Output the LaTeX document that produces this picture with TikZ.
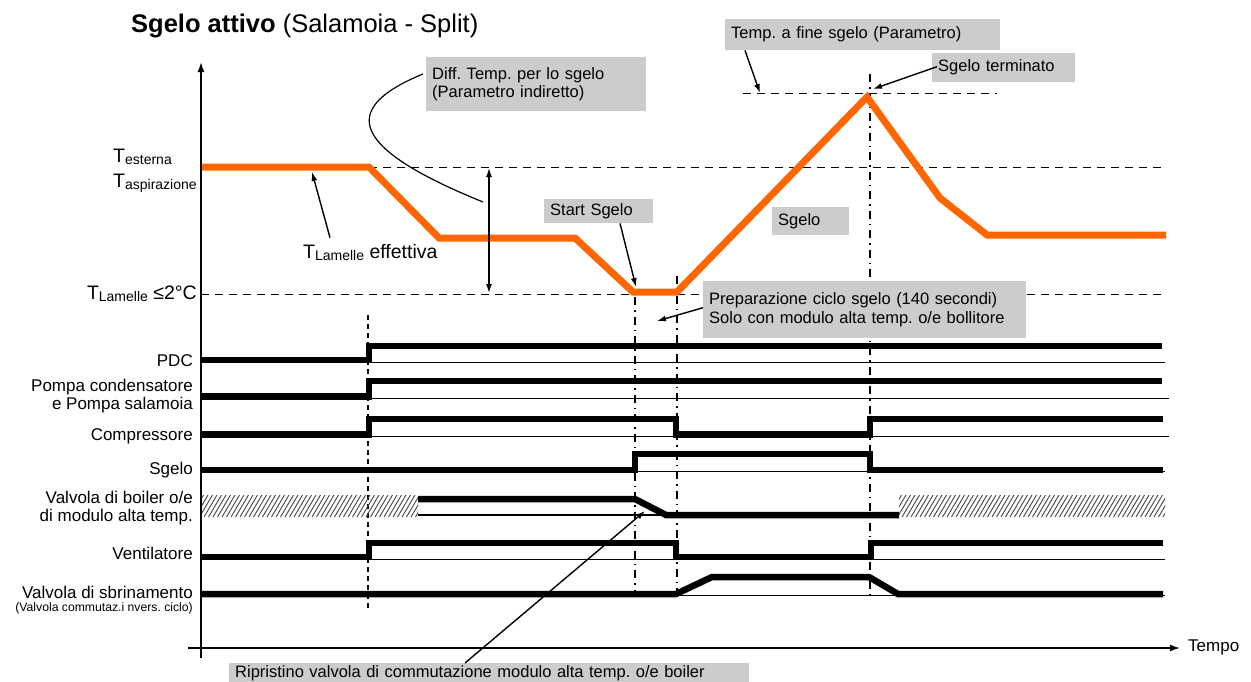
\documentclass[tikz,border=0pt]{standalone}
\usepackage{fontspec}
\setmainfont{Liberation Sans}
\usetikzlibrary{arrows.meta,calc}
\definecolor{boxgray}{RGB}{204,204,204}
\definecolor{frost}{RGB}{255,102,0}
\definecolor{hatchgray}{RGB}{70,70,70}
\newcommand{\lowsub}[1]{\raisebox{-2pt}{\fontsize{14}{15}\selectfont #1}}
\frenchspacing

\begin{document}
\begin{tikzpicture}[x=1pt,y=-1pt,
  lbl/.style={font=\fontsize{17}{18}\selectfont, inner sep=0pt},
  smalllbl/.style={font=\fontsize{12.2}{13}\selectfont, inner sep=0pt},
  tlbl/.style={font=\fontsize{19.5}{21}\selectfont, inner sep=0pt},
  note/.style={fill=boxgray, font=\fontsize{16.5}{18.5}\selectfont, align=left,
               inner xsep=6pt, inner ysep=0pt, anchor=north west},
  tempcurve/.style={draw=frost, line width=7pt, line join=miter},
  sig/.style={line width=6.5pt, line join=miter},
  thinbase/.style={line width=1.2pt},
  refline/.style={line width=1.6pt, dash pattern=on 8pt off 6pt},
  evline/.style={line width=1.4pt, dash pattern=on 5pt off 4pt},
  dashdot/.style={line width=1.5pt, dash pattern=on 8pt off 5pt on 1.5pt off 5pt},
  pointer/.style={line width=1.4pt, -{Latex[length=9pt,width=6pt]}},
  axis/.style={line width=1.6pt, -{Latex[length=10pt,width=7pt]}},
  hatch/.style={draw=hatchgray, line width=0.9pt},
]
\useasboundingbox (0,0) rectangle (1251,681);

% ---- title ----
\node[anchor=base west, inner sep=0pt, font=\fontsize{25.5}{28}\selectfont] (title) at (131,32)
  {\textbf{Sgelo attivo} (Salamoia - Split)};

% ---- temperature levels ----
\node[tlbl, anchor=base west] (text) at (113,162) {T\lowsub{esterna}};
\node[tlbl, anchor=base west] (tasp) at (113,187) {T\lowsub{aspirazione}};
\node[tlbl, anchor=base east] (tlam) at (197,299) {T\lowsub{Lamelle} ≤2°C};
\node[tlbl, anchor=base west] (teff) at (303,258) {T\lowsub{Lamelle} effettiva};

\draw[refline] (201,167.5) -- (1163,167.5);
\draw[refline] (201,294.5) -- (1163,294.5);
\draw[refline] (743,93.5) -- (997,93.5);

% ---- event markers ----
\draw[evline] (368,315) -- (368,610);
\draw[dashdot] (635,297) -- (635,590);
\draw[dashdot] (677,276) -- (677,597);
\draw[dashdot] (870,74) -- (870,595);

% ---- signal rows: labels ----
\node[lbl, anchor=base east] (lpdc) at (193,366) {PDC};
\node[lbl, anchor=north east, align=right] (lpump) at (193,379) {Pompa condensatore\\e Pompa salamoia};
\node[lbl, anchor=base east] (lcomp) at (193,440) {Compressore};
\node[lbl, anchor=base east] (lsgelo) at (193,474) {Sgelo};
\node[lbl, anchor=north east, align=right] (lboil) at (193,491) {Valvola di boiler o/e\\di modulo alta temp.};
\node[lbl, anchor=base east] (lvent) at (193,559) {Ventilatore};
\node[lbl, anchor=base east] (lsbr) at (193,598) {Valvola di sbrinamento};
\node[smalllbl, anchor=base east] (lsbr2) at (193,611) {(Valvola commutaz.i nvers. ciclo)};

% ---- signal rows: thin base lines ----
\draw[thinbase] (201,362.5) -- (1165,362.5);
\draw[thinbase] (201,398.5) -- (1169,398.5);
\draw[thinbase] (201,436.5) -- (1169,436.5);
\draw[thinbase] (201,471.5) -- (1165,471.5);
\draw[thinbase] (418,515) -- (899,515);
\draw[thinbase] (201,559.5) -- (1165,559.5);
\draw[thinbase] (201,595.5) -- (1165,595.5);

% ---- undefined state of the boiler valve ----
\begin{scope}
  \clip (201,495) rectangle (418,517);
  \foreach \h in {186,190.5,...,420} \draw[hatch] (\h,517) -- ++(13,-22);
\end{scope}
\begin{scope}
  \clip (899,495) rectangle (1165,517);
  \foreach \h in {884,888.5,...,1168} \draw[hatch] (\h,517) -- ++(13,-22);
\end{scope}

% ---- signal rows: levels ----
\draw[sig] (201,360) -- (369,360) -- (369,346) -- (1162,346);
\draw[sig] (201,396.5) -- (369,396.5) -- (369,381) -- (1162,381);
\draw[sig] (201,434.5) -- (369,434.5) -- (369,419) -- (676,419) -- (676,434.5)
  -- (870,434.5) -- (870,419) -- (1163,419);
\draw[sig] (201,470) -- (635,470) -- (635,454) -- (870,454) -- (870,470) -- (1163,470);
\draw[sig] (418,499) -- (635,499) -- (666,515) -- (899,515);
\draw[sig] (201,557) -- (369,557) -- (369,543) -- (676,543) -- (676,557)
  -- (871,557) -- (871,543) -- (1163,543);
\draw[sig] (201,594) -- (676,594) -- (712,577) -- (869,577) -- (898,594) -- (1163,594);

% ---- fin temperature ----
\draw[tempcurve] (201,167) -- (369,167) -- (439,238) -- (575,238) -- (633,292)
  -- (677,292) -- (867,97) -- (940,198) -- (987,235) -- (1166,235);

% ---- axes ----
\node[lbl, anchor=west] (tempo) at (1188,647) {Tempo};
\coordinate (xstart) at (188,648);
\draw[axis] (xstart) -- ([xshift=-8pt]tempo.west |- xstart);
\coordinate (ybot) at (201,658);
\coordinate (ytop) at (201,62);
\draw[axis] (ybot) -- (ytop);

% ---- call-outs ----
\node[note, minimum width=220pt, minimum height=54pt, text width=208pt] (diffbox) at (426,57)
  {Diff. Temp. per lo sgelo\\(Parametro indiretto)};
\node[note, minimum width=275pt, minimum height=31pt, text width=263pt] (tempfine) at (725,19)
  {Temp. a fine sgelo (Parametro)};
\node[note, minimum width=143pt, minimum height=29pt, text width=131pt] (terminato) at (932,53)
  {Sgelo terminato};
\node[note, minimum width=109pt, minimum height=24pt, text width=97pt] (startbox) at (544,199)
  {Start Sgelo};
\node[note, minimum width=77pt, minimum height=28pt, text width=65pt] (sgelobox) at (772,207)
  {Sgelo};
\node[note, minimum width=323pt, minimum height=57pt, text width=311pt] (prepbox) at (703,281)
  {Preparazione ciclo sgelo (140 secondi)\\Solo con modulo alta temp. o/e bollitore};
\node[note, minimum width=520pt, minimum height=20pt, text width=508pt] (ripbox) at (229,663)
  {Ripristino valvola di commutazione modulo alta temp. o/e boiler};

% ---- call-out pointers ----
\coordinate (diffEnd) at (483,202);
\draw[line width=1.2pt] ([xshift=-3pt,yshift=-17pt]diffbox.north west)
  .. controls (335,110) and (355,150) .. (diffEnd);
\coordinate (dtTop) at (489,168);
\coordinate (dtBot) at (489,293);
\draw[line width=1.4pt, {Latex[length=9pt,width=6pt]}-{Latex[length=9pt,width=6pt]}] (dtTop) -- (dtBot);

\coordinate (teffTip) at (312,172);
\draw[pointer] ([xshift=27pt,yshift=6pt]teff.north west) -- (teffTip);
\coordinate (fineTip) at (760,93);
\draw[pointer] ([xshift=20pt]tempfine.south west) -- (fineTip);
\coordinate (endTip) at (873,89);
\draw[pointer] ([xshift=5pt,yshift=1pt]terminato.west) -- (endTip);
\coordinate (startTip) at (636,287);
\draw[pointer] ([xshift=76pt]startbox.south west) -- (startTip);
\coordinate (prepTip) at (657,321);
\draw[pointer] ([yshift=2pt]prepbox.west) -- (prepTip);
\coordinate (ripTip) at (645,511);
\draw[pointer] ([xshift=236pt]ripbox.north west) -- (ripTip);
\end{tikzpicture}
\end{document}
